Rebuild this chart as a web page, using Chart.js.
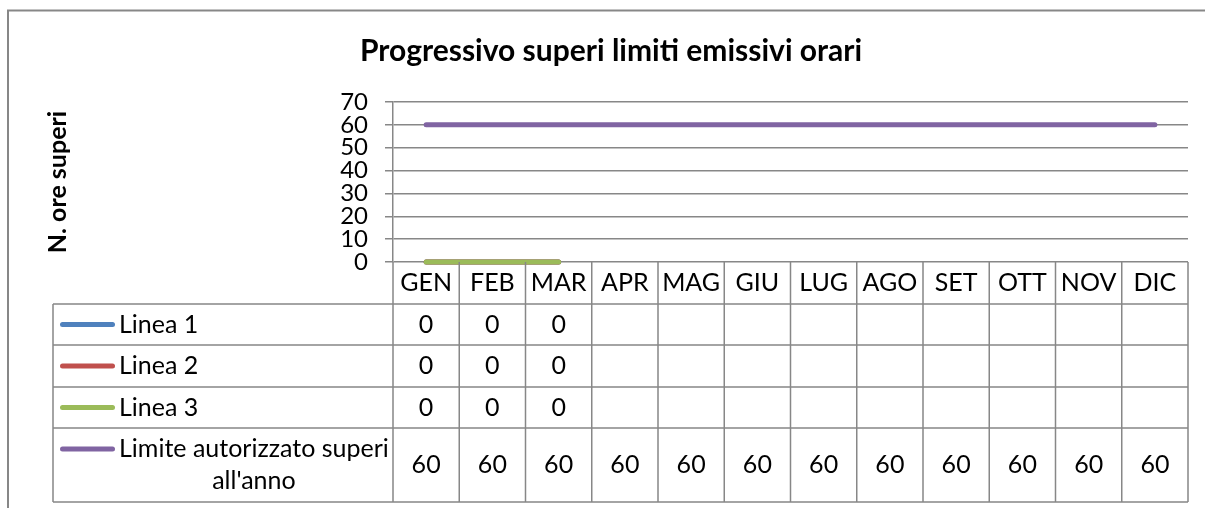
<!DOCTYPE html>
<html>
<head>
<meta charset="utf-8">
<script src="https://cdn.jsdelivr.net/npm/chart.js@4"></script>
<style>
  html, body { margin: 0; padding: 0; background: #fff; overflow: hidden; }
</style>
</head>
<body>
<canvas id="chart" width="1205" height="508"></canvas>
<script>
'use strict';

/*--- data ---*/
var months = ['GEN', 'FEB', 'MAR', 'APR', 'MAG', 'GIU', 'LUG', 'AGO', 'SET', 'OTT', 'NOV', 'DIC'];
var linea1 = [0, 0, 0, null, null, null, null, null, null, null, null, null];
var linea2 = [0, 0, 0, null, null, null, null, null, null, null, null, null];
var linea3 = [0, 0, 0, null, null, null, null, null, null, null, null, null];
var limite = [60, 60, 60, 60, 60, 60, 60, 60, 60, 60, 60, 60];
var seriesNames = ['Linea 1', 'Linea 2', 'Linea 3', "Limite autorizzato superi all'anno"];
var yMin = 0, yMax = 70, yStep = 10;

/*--- styles ---*/
var colors = ['#4F81BD', '#C0504D', '#9BBB59', '#8064A2'];
var gridColor = '#878787';
var fontFamily = 'Lato, "Open Sans", sans-serif';
var bodySize = 25;
var rowHeights = [41, 42, 41, 74];

function series(i, values) {
  return {
    label: seriesNames[i],
    data: values,
    borderColor: colors[i],
    backgroundColor: colors[i],
    borderWidth: 5,
    borderCapStyle: 'round',
    pointRadius: 0,
    clip: false,
    order: seriesNames.length - i   // later series on top, like excel
  };
}

/*--- frame + data table under the x axis ---*/
var dataTable = {
  id: 'dataTable',
  beforeDraw: function (chart) {
    var ctx = chart.ctx;
    ctx.save();
    ctx.strokeStyle = gridColor;
    ctx.lineWidth = 2;
    ctx.strokeRect(8, 10.5, 1220, 600);
    ctx.restore();
  },
  afterDraw: function (chart) {
    var ctx = chart.ctx;
    var area = chart.chartArea;
    var xs = chart.scales.x;
    var half = (xs.getPixelForValue(1) - xs.getPixelForValue(0)) / 2;
    var top = xs.bottom;
    var left = 53;
    var ys = [top];
    rowHeights.forEach(function (h) { ys.push(ys[ys.length - 1] + h); });
    var bottom = ys[ys.length - 1];

    ctx.save();
    ctx.strokeStyle = gridColor;
    ctx.lineWidth = 1.5;
    ctx.beginPath();
    ys.forEach(function (y) { ctx.moveTo(left, y); ctx.lineTo(area.right, y); });
    ctx.moveTo(left, top); ctx.lineTo(left, bottom);
    for (var i = 0; i <= months.length; i++) {
      var bx = xs.getPixelForValue(i) - half;
      ctx.moveTo(bx, area.bottom); ctx.lineTo(bx, bottom);
    }
    ctx.stroke();

    ctx.font = bodySize + 'px ' + fontFamily;
    ctx.fillStyle = '#000';
    ctx.textBaseline = 'middle';

    chart.data.datasets.forEach(function (ds, r) {
      var yc = (ys[r] + ys[r + 1]) / 2;
      // wrap the series name into the label column
      var textX = 119, maxW = area.left - textX - 2;
      var words = ds.label.split(' '), lines = [], cur = '';
      words.forEach(function (w) {
        var t = cur ? cur + ' ' + w : w;
        if (ctx.measureText(t).width > maxW && cur) { lines.push(cur); cur = w; } else { cur = t; }
      });
      lines.push(cur);
      var lh = 32;
      var firstY = yc - (lines.length - 1) * lh / 2;

      // legend key
      ctx.strokeStyle = ds.borderColor;
      ctx.lineWidth = 5;
      ctx.lineCap = 'round';
      ctx.beginPath();
      ctx.moveTo(62.5, firstY); ctx.lineTo(112.5, firstY);
      ctx.stroke();

      if (lines.length === 1) {
        ctx.textAlign = 'left';
        ctx.fillText(lines[0], textX, firstY);
      } else {
        var bw = Math.max.apply(null, lines.map(function (l) { return ctx.measureText(l).width; }));
        ctx.textAlign = 'center';
        lines.forEach(function (l, k) { ctx.fillText(l, textX + bw / 2, firstY + k * lh); });
      }

      // values
      ctx.textAlign = 'center';
      ds.data.forEach(function (v, i) {
        if (v === null || v === undefined) return;
        ctx.fillText(String(v), xs.getPixelForValue(i), yc);
      });
    });
    ctx.restore();
  }
};

/*--- chart ---*/
var chart = new Chart(document.getElementById('chart'), {
  type: 'line',
  data: {
    labels: months,
    datasets: [series(0, linea1), series(1, linea2), series(2, linea3), series(3, limite)]
  },
  options: {
    responsive: false,
    animation: false,
    layout: { padding: { left: 34, top: 10, right: 17, bottom: 204 } },
    plugins: {
      legend: { display: false },
      tooltip: { enabled: false },
      title: {
        display: true,
        text: 'Progressivo superi limiti emissivi orari',
        color: '#000',
        font: { family: fontFamily, size: 30, weight: 'bold' },
        padding: { top: 23, bottom: 33 }
      }
    },
    scales: {
      x: {
        offset: true,
        grid: { display: false, drawTicks: false },
        border: { display: false },
        ticks: { color: '#000', font: { family: fontFamily, size: bodySize }, padding: 6, maxRotation: 0, autoSkip: false },
        afterFit: function (s) { s.height = 42; }
      },
      y: {
        min: yMin,
        max: yMax,
        ticks: { stepSize: yStep, autoSkip: false, color: '#000', font: { family: fontFamily, size: 24 }, padding: 17 },
        grid: { color: gridColor, lineWidth: 1.5, tickLength: 8 },
        border: { display: true, color: gridColor, width: 1.5 },
        title: {
          display: true,
          text: 'N. ore superi',
          color: '#000',
          font: { family: fontFamily, size: 25, weight: 'bold' },
          padding: { top: 9, bottom: 0 }
        },
        afterFit: function (s) { s.width = 359; }
      }
    }
  },
  plugins: [dataTable]
});
</script>
</body>
</html>
